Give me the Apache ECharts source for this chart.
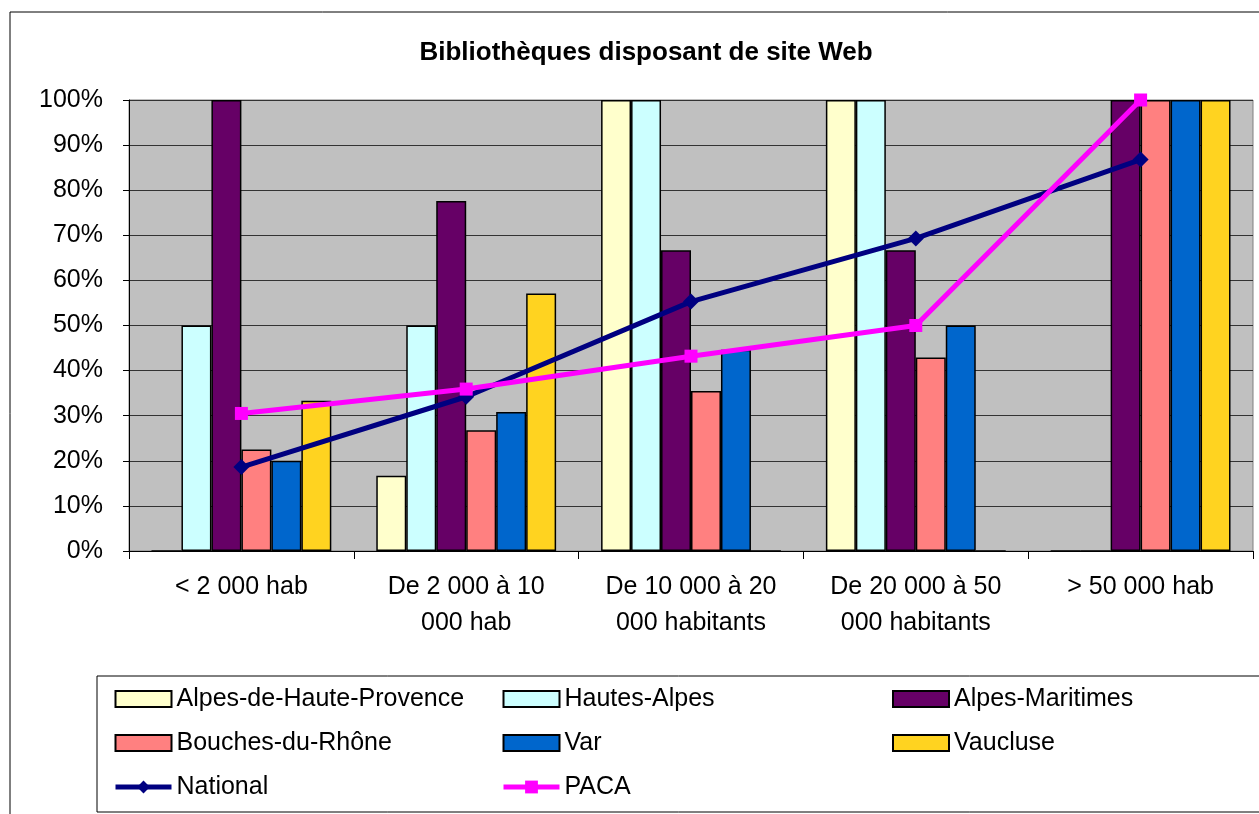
<!DOCTYPE html>
<html>
<head>
<meta charset="utf-8">
<script src="https://cdn.jsdelivr.net/npm/echarts@6/dist/echarts.min.js"></script>
<style>
    html, body { margin: 0; padding: 0; background: #fff; }
    #chart { width: 1259px; height: 814px; }
</style>
</head>
<body>
<div id="chart"></div>
<script>
//--------------------------------
// Data
//--------------------------------
const categories = ['< 2 000 hab', 'De 2 000 à 10\n000 hab', 'De 10 000 à 20\n000 habitants', 'De 20 000 à 50\n000 habitants', '> 50 000 hab'];
const yTicks = [0, 10, 20, 30, 40, 50, 60, 70, 80, 90, 100];

const alpesHauteProvence = [0, 16.7, 100, 100, 0];
const hautesAlpes = [50, 50, 100, 100, 0];
const alpesMaritimes = [100, 77.6, 66.7, 66.7, 100];
const bouchesDuRhone = [22.5, 26.8, 35.5, 42.9, 100];
const varDept = [20, 30.8, 44.6, 50, 100];
const vaucluse = [33.3, 57.1, 0, 0, 100];
const national = [18.6, 34.2, 55.3, 69.3, 86.8];
const paca = [30.5, 35.9, 43.2, 50, 100];

//--------------------------------
// Local Variable
//--------------------------------
const FONT = '"Liberation Sans", Arial, sans-serif';
var myChart = echarts.init(document.getElementById('chart'));

const barSeries = (name, data, color) => {
    return {
        name: name,
        type: 'bar',
        barGap: '0%',
        barCategoryGap: '20%',
        itemStyle: {
            color: color,
            borderColor: '#000',
            borderWidth: 1.5
        },
        emphasis: { disabled: true },
        data: data
    };
};

const lineSeries = (name, data, color, symbol, size) => {
    return {
        name: name,
        type: 'line',
        z: 5,
        symbol: symbol,
        symbolSize: size,
        lineStyle: { color: color, width: 5 },
        itemStyle: { color: color },
        emphasis: { disabled: true },
        data: data
    };
};

const legendBase = (left, names) => {
    return {
        orient: 'vertical',
        left: left,
        top: 681,
        itemWidth: 56,
        itemHeight: 16,
        itemGap: 18,
        selectedMode: false,
        lineStyle: { width: 5 },
        textStyle: { fontFamily: FONT, fontSize: 25, color: '#000', lineHeight: 26 },
        data: names
    };
};

let options = {
    animation: false,
    backgroundColor: '#fff',
    title: {
        text: 'Bibliothèques disposant de site Web',
        left: 641,
        textAlign: 'center',
        top: 35,
        textStyle: { fontFamily: FONT, fontSize: 26, fontWeight: 'bold', color: '#000' }
    },
    graphic: [
        {
            type: 'rect',
            shape: { x: 10, y: 12, width: 1400, height: 900 },
            style: { fill: 'none', stroke: '#000', lineWidth: 1 },
            silent: true
        },
        {
            type: 'rect',
            shape: { x: 97, y: 676, width: 1300, height: 136 },
            style: { fill: 'none', stroke: '#000', lineWidth: 1 },
            silent: true
        }
    ],
    legend: [
        legendBase(108, [
            { name: 'Alpes-de-Haute-Provence', icon: 'rect' },
            { name: 'Bouches-du-Rhône', icon: 'rect' },
            { name: 'National' }
        ]),
        legendBase(496, [
            { name: 'Hautes-Alpes', icon: 'rect' },
            { name: 'Var', icon: 'rect' },
            { name: 'PACA' }
        ]),
        legendBase(887, [
            { name: 'Alpes-Maritimes', icon: 'rect' },
            { name: 'Vaucluse', icon: 'rect' }
        ])
    ],
    grid: {
        left: 129,
        right: 6,
        top: 100,
        bottom: 263,
        show: true,
        backgroundColor: '#C0C0C0',
        borderColor: '#808080',
        borderWidth: 1
    },
    xAxis: {
        type: 'category',
        data: categories,
        axisLine: { lineStyle: { color: '#000', width: 1 } },
        axisTick: { show: true, interval: 0, length: 8, lineStyle: { color: '#000' } },
        axisLabel: {
            interval: 0,
            hideOverlap: false,
            fontFamily: FONT,
            fontSize: 25,
            color: '#000',
            lineHeight: 36,
            margin: 18
        }
    },
    yAxis: {
        type: 'value',
        min: 0,
        max: 100,
        interval: 10,
        axisLine: { show: true, lineStyle: { color: '#000', width: 1 } },
        axisTick: { show: true, length: 6, lineStyle: { color: '#000' } },
        splitLine: { lineStyle: { color: '#333', width: 1 } },
        axisLabel: {
            fontFamily: FONT,
            fontSize: 25,
            color: '#000',
            margin: 26,
            formatter: (v) => (yTicks.indexOf(v) >= 0 ? v + '%' : '')
        }
    },
    series: [
        barSeries('Alpes-de-Haute-Provence', alpesHauteProvence, '#FFFFCC'),
        barSeries('Hautes-Alpes', hautesAlpes, '#CCFFFF'),
        barSeries('Alpes-Maritimes', alpesMaritimes, '#660066'),
        barSeries('Bouches-du-Rhône', bouchesDuRhone, '#FF8080'),
        barSeries('Var', varDept, '#0066CC'),
        barSeries('Vaucluse', vaucluse, '#FFD320'),
        lineSeries('National', national, '#000080', 'diamond', 16),
        lineSeries('PACA', paca, '#FF00FF', 'rect', 13)
    ]
};
myChart.setOption(options);
</script>
</body>
</html>
